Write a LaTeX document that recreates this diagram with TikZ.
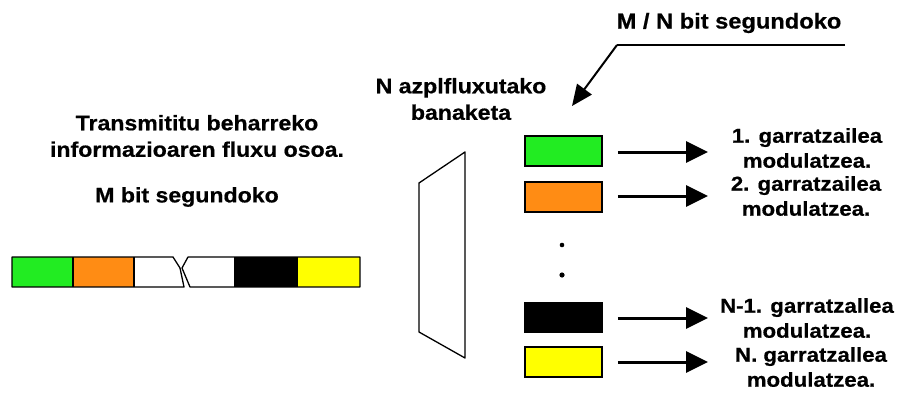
\documentclass[tikz,border=0pt]{standalone}
\usepackage{fontspec}
\setmainfont{Liberation Sans}[FakeStretch=1.1, BoldFeatures={FakeBold=0.6}]
\usetikzlibrary{arrows.meta}
\definecolor{segGreen}{RGB}{34,236,34}
\definecolor{segOrange}{RGB}{255,140,20}
\definecolor{segYellow}{RGB}{255,255,0}
\tikzset{
  lbl/.style={font=\bfseries\fontsize{21}{26.5}\selectfont, align=center, inner sep=0pt},
  rlbl/.style={font=\bfseries\fontsize{20.2}{25}\selectfont, align=center, inner sep=0pt},
  subbox/.style={draw=black, line width=1.5pt, minimum width=77pt, minimum height=30pt, inner sep=0pt},
  bigarrow/.style={line width=3pt, -{Triangle[length=22pt,width=21pt]}},
  outline/.style={draw=black, line width=1.3pt, line join=round},
}
\begin{document}
\begin{tikzpicture}[x=1pt,y=-1pt]
  \useasboundingbox (0,0) rectangle (916,394);
  \fill[white] (0,0) rectangle (916,394);

  % left captions
  \node[lbl] (flux) at (197,136) {Transmititu beharreko\\informazioaren fluxu osoa.};
  \node[lbl] (rate) at (187,197) {M bit segundoko};

  % the full stream, broken in the middle
  \fill[segGreen]  (12,257) rectangle (73,287);
  \fill[segOrange] (73,257) rectangle (134,287);
  \fill[black]     (235,257) rectangle (297,287);
  \fill[segYellow] (297,257) rectangle (360,287);
  \draw[outline] (134,257) -- (173,257) -- (180,268) -- (184,287) -- (12,287) -- (12,257) -- (134,257);
  \draw[outline] (73,257) -- (73,287);
  \draw[outline] (134,257) -- (134,287);
  \draw[outline] (188,257) -- (360,257) -- (360,287) -- (190,287) -- (182,268) -- cycle;
  \draw[outline] (235,257) -- (235,287);
  \draw[outline] (297,257) -- (297,287);

  % splitter
  \node[lbl] (split) at (461,99) {N azplfluxutako\\banaketa};
  \draw[outline] (465,152) -- (419,183) -- (419,332) -- (465,358) -- cycle;

  % sub-streams
  \node[subbox, fill=segGreen]  (s1) at (563.5,151) {};
  \node[subbox, fill=segOrange] (s2) at (563.5,197) {};
  \node[subbox, fill=black]     (s3) at (563.5,317.5) {};
  \node[subbox, fill=segYellow] (s4) at (563.5,362) {};
  \fill (562,245) circle (2.3pt);
  \fill (562,275) circle (2.6pt);

  % rate of each sub-stream
  \node[lbl, font=\bfseries\fontsize{21.5}{26}\selectfont] (subrate) at (729,23) {M / N bit segundoko};
  \coordinate (ulEnd) at (845,45);
  \coordinate (ulStart) at (617,45);
  \coordinate (tip) at (572,106);
  \draw[line width=1.4pt] (ulEnd) -- (ulStart);
  \draw[line width=2pt, -{Triangle[length=21pt,width=18pt]}] (ulStart) -- (tip);

  % carriers
  \node[rlbl] (c1) at (807,148) {1. garratzailea\\modulatzea.};
  \node[rlbl] (c2) at (806,196) {2. garratzailea\\modulatzea.};
  \node[rlbl] (c3) at (807,318) {N-1. garratzallea\\modulatzea.};
  \node[rlbl] (c4) at (811,367) {N. garratzallea\\modulatzea.};

  \coordinate (e1) at (708,152);
  \coordinate (e2) at (708,196);
  \coordinate (e3) at (708,318);
  \coordinate (e4) at (708,362);
  \draw[bigarrow, shorten <=15pt] (s1.east |- e1) -- (e1);
  \draw[bigarrow, shorten <=15pt] (s2.east |- e2) -- (e2);
  \draw[bigarrow, shorten <=15pt] (s3.east |- e3) -- (e3);
  \draw[bigarrow, shorten <=15pt] (s4.east |- e4) -- (e4);
\end{tikzpicture}
\end{document}
